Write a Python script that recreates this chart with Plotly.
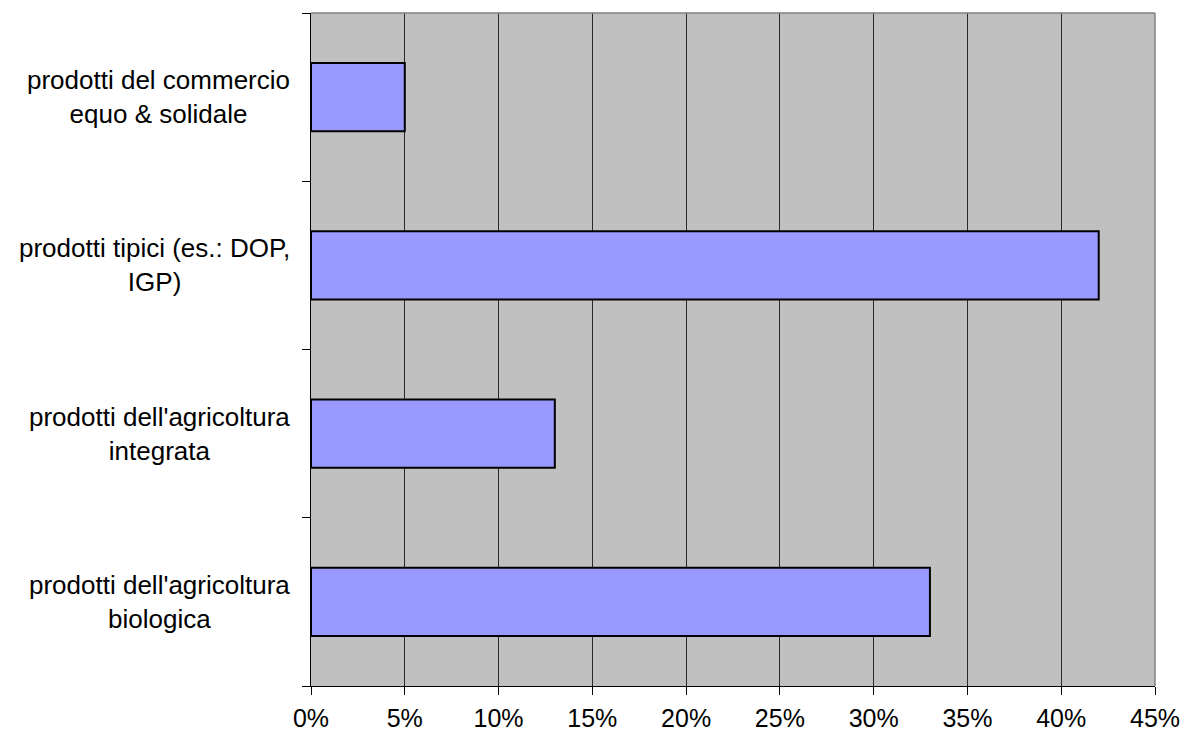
import plotly.graph_objects as go

# Product categories (top to bottom) and their shares in percent
categories = [
    "prodotti del commercio<br>equo & solidale",
    "prodotti tipici (es.: DOP,<br>IGP)",
    "prodotti dell'agricoltura<br>integrata",
    "prodotti dell'agricoltura<br>biologica",
]
shares = [5, 42, 13, 33]
x_ticks = [0, 5, 10, 15, 20, 25, 30, 35, 40, 45]
x_tick_labels = [f"{v}%" for v in x_ticks]

FONT = "Liberation Sans, Arial, sans-serif"
FONT_SIZE = 26

fig = go.Figure(
    go.Bar(
        x=shares,
        y=list(range(len(categories))),
        orientation="h",
        marker=dict(color="#9999FF", line=dict(color="#000000", width=2)),
        hoverinfo="x",
    )
)

# Category labels: centred multi-line blocks, right edge just left of the axis
for i, label in enumerate(categories):
    fig.add_annotation(
        x=0, xref="paper", y=i, yref="y",
        text=label, showarrow=False,
        xanchor="right", yanchor="middle", align="center",
        xshift=-19,
        font=dict(family=FONT, size=FONT_SIZE, color="#000000"),
    )

fig.update_layout(
    width=1181, height=733,
    margin=dict(l=311, r=26, t=13, b=47),
    paper_bgcolor="#FFFFFF",
    plot_bgcolor="#C0C0C0",
    bargap=0.595,
    showlegend=False,
    font=dict(family=FONT, size=FONT_SIZE, color="#000000"),
    xaxis=dict(
        range=[0, 45],
        tickvals=x_ticks, ticktext=x_tick_labels,
        showgrid=True, gridcolor="#2a2a2a", gridwidth=1,
        zeroline=False,
        showline=True, linecolor="#000000", linewidth=1,
        ticks="outside", ticklen=8, tickcolor="#000000",
        ticklabelstandoff=2,
        ticklabeloverflow="allow",
        tickfont=dict(family=FONT, size=25, color="#000000"),
        automargin=False,
        fixedrange=True,
    ),
    yaxis=dict(
        type="linear",
        range=[3.5, -0.5],
        tickvals=[-0.5, 0.5, 1.5, 2.5, 3.5],
        ticktext=["", "", "", "", ""],
        showgrid=False, zeroline=False,
        showline=True, linecolor="#000000", linewidth=1,
        ticks="outside", ticklen=8, tickcolor="#000000",
        automargin=False,
        fixedrange=True,
    ),
    shapes=[
        # grey frame on the top and right edges of the plot area
        dict(type="line", xref="paper", yref="paper", x0=0, x1=1, y0=1, y1=1,
             line=dict(color="#808080", width=1.5), layer="above"),
        dict(type="line", xref="paper", yref="paper", x0=1, x1=1, y0=0, y1=1,
             line=dict(color="#808080", width=1.5), layer="above"),
    ],
)

fig.write_html("out.html")
